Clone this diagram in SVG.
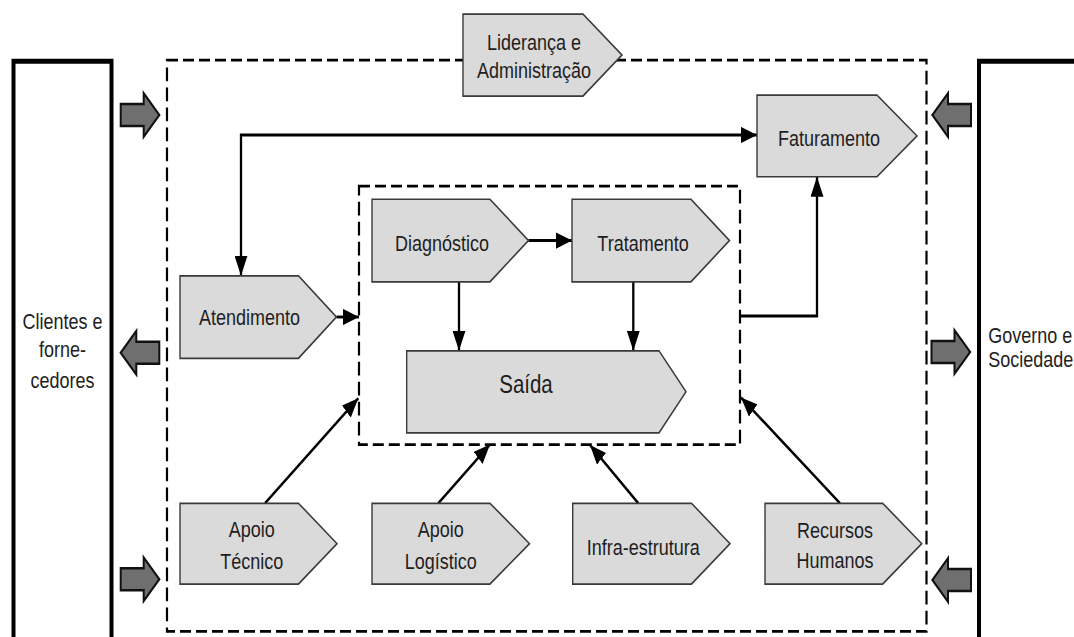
<svg xmlns="http://www.w3.org/2000/svg" width="1074" height="637" viewBox="0 0 1074 637">
  <defs>
    <style>
      .node polygon { fill: #dadada; stroke: #3a3a3a; stroke-width: 1.4; }
      .lbl { font-family: "Liberation Sans", Arial, sans-serif; font-size: 18px; fill: #1e1e1e; text-anchor: middle; }
      .big { font-size: 20.5px; }
      .start { text-anchor: start; }
      .conn path { fill: none; stroke: #000; stroke-width: 2.3; }
      .frame { fill: none; stroke: #000; stroke-width: 2.2; stroke-dasharray: 11 5; }
      .party { fill: none; stroke: #000; stroke-width: 4; }
      .flow { fill: #6f6f6f; stroke: #111; stroke-width: 2; }
    </style>
    <marker id="ah" markerUnits="userSpaceOnUse" markerWidth="16" markerHeight="13" viewBox="0 0 16 13" refX="16" refY="6.5" orient="auto-start-reverse">
      <path d="M0,0 L16,6.5 L0,13 Z" fill="#000"/>
    </marker>
    <!-- wide block arrow, pointing right, origin at the tail centre -->
    <path id="blk" d="M0,-8.8 H23 V-17.4 L38.6,0 L23,17.4 V8.8 H0 Z"/>
  </defs>

  <rect width="1074" height="637" fill="#fff"/>

  <!-- the whole chart is drawn in a vertically stretched frame -->
  <g transform="scale(1,1.25)">

    <!-- external parties -->
    <g id="clientes">
      <rect class="party" x="13.5" y="49" width="98" height="500"/>
      <text class="lbl" x="62.5" y="263.4">Clientes e</text>
      <text class="lbl" x="62.5" y="285.4">forne-</text>
      <text class="lbl" x="62.5" y="310.6">cedores</text>
    </g>
    <g id="governo">
      <rect class="party" x="979" y="49" width="200" height="500"/>
      <text class="lbl start" x="988.3" y="274.6">Governo e</text>
      <text class="lbl start" x="988.3" y="293.4">Sociedade</text>
    </g>

    <!-- organisation boundary and core process boundary -->
    <rect id="organizacao" class="frame" x="167" y="48" width="759.5" height="457"/>
    <rect id="nucleo" class="frame" x="359" y="148.8" width="381" height="206.8"/>

    <!-- exchange arrows with the environment -->
    <g id="trocas">
      <use href="#blk" class="flow" transform="translate(120.7,92)"/>
      <use href="#blk" class="flow" transform="translate(159.3,282.2) scale(-1,1)"/>
      <use href="#blk" class="flow" transform="translate(120.7,463.4)"/>
      <use href="#blk" class="flow" transform="translate(971,92) scale(-1,1)"/>
      <use href="#blk" class="flow" transform="translate(931.5,281.6)"/>
      <use href="#blk" class="flow" transform="translate(971,464) scale(-1,1)"/>
    </g>

    <!-- connectors -->
    <g class="conn" id="conectores">
      <path d="M241,220.6 V108 H757" marker-start="url(#ah)" marker-end="url(#ah)"/>
      <path d="M528.5,192.4 H572" marker-end="url(#ah)"/>
      <path d="M459,225.4 V280.6" marker-end="url(#ah)"/>
      <path d="M633.3,225.4 V280.6" marker-end="url(#ah)"/>
      <path d="M336.5,253.6 H359" marker-end="url(#ah)"/>
      <path d="M740,252.8 H817 V141.4" marker-end="url(#ah)"/>
      <path d="M265,402.6 L358.3,318.6" marker-end="url(#ah)"/>
      <path d="M438.3,402.6 L490,355.6" marker-end="url(#ah)"/>
      <path d="M638.3,402.6 L590,356" marker-end="url(#ah)"/>
      <path d="M840,402.6 L741,318" marker-end="url(#ah)"/>
    </g>

    <!-- process nodes -->
    <g class="node" id="lideranca">
      <polygon points="463,11.2 583,11.2 622,44 583,76.8 463,76.8"/>
      <text class="lbl" x="534" y="40">Liderança e</text>
      <text class="lbl" x="534" y="62.4">Administração</text>
    </g>
    <g class="node" id="faturamento">
      <polygon points="757,76 877,76 917,108.7 877,141.4 757,141.4"/>
      <text class="lbl" x="829" y="116.8">Faturamento</text>
    </g>
    <g class="node" id="diagnostico">
      <polygon points="372,159.4 490,159.4 528.5,192.4 490,225.4 372,225.4"/>
      <text class="lbl" x="442" y="200.6">Diagnóstico</text>
    </g>
    <g class="node" id="tratamento">
      <polygon points="572,159.4 691,159.4 729.5,192.4 691,225.4 572,225.4"/>
      <text class="lbl" x="643" y="200.6">Tratamento</text>
    </g>
    <g class="node" id="saida">
      <polygon points="406.7,280.6 659,280.6 686,313.4 659,346.2 406.7,346.2"/>
      <text class="lbl big" x="526" y="314.6">Saída</text>
    </g>
    <g class="node" id="atendimento">
      <polygon points="180,220.6 298.5,220.6 336.5,253.6 298.5,286.6 180,286.6"/>
      <text class="lbl" x="249.5" y="260">Atendimento</text>
    </g>
    <g class="node" id="apoio-tecnico">
      <polygon points="180,402.6 298.5,402.6 337,434.9 298.5,467.2 180,467.2"/>
      <text class="lbl" x="251.7" y="429.6">Apoio</text>
      <text class="lbl" x="251.7" y="455.2">Técnico</text>
    </g>
    <g class="node" id="apoio-logistico">
      <polygon points="372,402.6 490,402.6 529.5,434.9 490,467.2 372,467.2"/>
      <text class="lbl" x="440.7" y="429.6">Apoio</text>
      <text class="lbl" x="440.7" y="455.2">Logístico</text>
    </g>
    <g class="node" id="infraestrutura">
      <polygon points="572.7,402.6 691.5,402.6 730,434.9 691.5,467.2 572.7,467.2"/>
      <text class="lbl" x="643.3" y="444">Infra-estrutura</text>
    </g>
    <g class="node" id="recursos-humanos">
      <polygon points="765,402.6 882.7,402.6 921.7,434.9 882.7,467.2 765,467.2"/>
      <text class="lbl" x="835" y="430.2">Recursos</text>
      <text class="lbl" x="835" y="454.6">Humanos</text>
    </g>
  </g>
</svg>
